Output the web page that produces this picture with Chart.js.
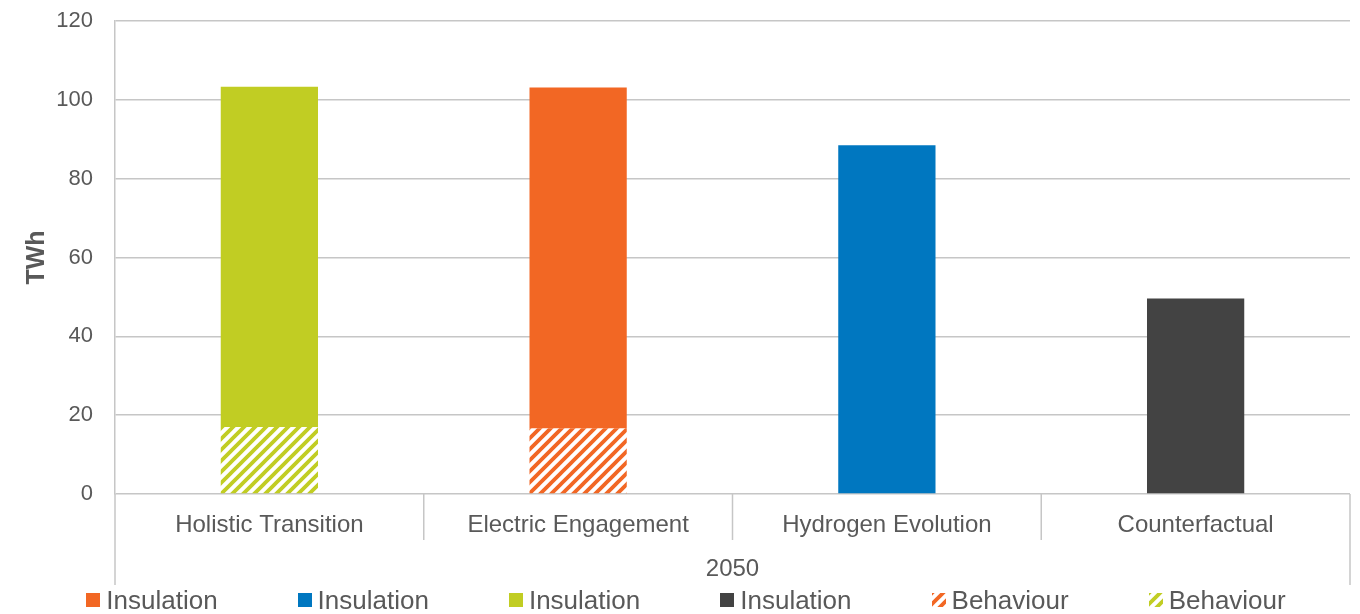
<!DOCTYPE html>
<html>
<head>
<meta charset="utf-8">
<script src="https://cdn.jsdelivr.net/npm/chart.js@4/dist/chart.umd.min.js"></script>
<style>
  body { margin: 0; background: #fff; }
  #wrap { position: relative; width: 1360px; height: 614px; overflow: hidden; }
  #legend {
    position: absolute; left: 0; top: 585px; width: 1360px; height: 30px;
    display: flex; justify-content: center; align-items: center; gap: 80px;
    font-family: "Liberation Sans", Arial, sans-serif; font-size: 26px; color: #595959;
    transform: translateX(6px);
  }
  #legend .item { display: flex; align-items: center; white-space: nowrap; }
  #legend canvas { margin-right: 6px; }
</style>
</head>
<body>
<div id="wrap">
  <canvas id="bar-chart" width="1360" height="614"></canvas>
  <div id="legend"></div>
</div>
<script>
const categories = ['Holistic Transition', 'Electric Engagement', 'Hydrogen Evolution', 'Counterfactual'];
const groupLabel = '2050';
const yTitle = 'TWh';

const insulationElectric = [null, 86.4, null, null];
const insulationHydrogen = [null, null, 88.5, null];
const insulationHolistic = [86.3, null, null, null];
const insulationCounterfactual = [null, null, null, 49.6];
const behaviourElectric = [null, 16.7, null, null];
const behaviourHolistic = [17.0, null, null, null];

const seriesNames = ['Insulation', 'Insulation', 'Insulation', 'Insulation', 'Behaviour', 'Behaviour'];
const seriesValues = [insulationElectric, insulationHydrogen, insulationHolistic, insulationCounterfactual, behaviourElectric, behaviourHolistic];
const seriesColors = ['#F26724', '#0077C0', '#C1CD23', '#434343', '#F26724', '#C1CD23'];
const seriesHatched = [false, false, false, false, true, true];

const GRID = '#c6c6c6';
const TEXT = '#595959';
const FONT = '"Liberation Sans", Arial, sans-serif';

const ctx = document.querySelector('#bar-chart').getContext('2d');

function makeHatch(color, targetCtx) {
    const size = 11;
    const c = document.createElement('canvas');
    c.width = size; c.height = size;
    const g = c.getContext('2d');
    g.strokeStyle = color;
    g.lineWidth = 3.8;
    g.beginPath();
    g.moveTo(-size / 2, size / 2); g.lineTo(size / 2, -size / 2);
    g.moveTo(0, size); g.lineTo(size, 0);
    g.moveTo(size / 2, size * 1.5); g.lineTo(size * 1.5, size / 2);
    g.stroke();
    return targetCtx.createPattern(c, 'repeat');
}

// behaviour goes under insulation in each stack
const datasets = seriesNames.map((name, i) => ({
    label: name,
    data: seriesValues[i],
    backgroundColor: seriesHatched[i] ? makeHatch(seriesColors[i], ctx) : seriesColors[i],
    borderWidth: 0,
    order: seriesHatched[i] ? 0 : 1
})).sort((a, b) => a.order - b.order);

// category separators + outer frame under the x axis
const separators = {
    id: 'separators',
    afterDraw(chart) {
        const x = chart.scales.x;
        const area = chart.chartArea;
        const c = chart.ctx;
        const n = categories.length;
        const step = x.getPixelForValue(1) - x.getPixelForValue(0);
        c.save();
        c.strokeStyle = GRID;
        c.lineWidth = 1.5;
        for (let i = 0; i <= n; i++) {
            const px = x.getPixelForValue(i) - step / 2;
            const outer = (i === 0 || i === n);
            const end = outer ? area.bottom + 91 : area.bottom + 46;
            c.beginPath();
            c.moveTo(px, area.bottom);
            c.lineTo(px, end);
            c.stroke();
        }
        c.restore();
    }
};

new Chart(ctx, {
    type: 'bar',
    data: { labels: categories, datasets: datasets },
    plugins: [separators],
    options: {
        responsive: false,
        animation: false,
        layout: { padding: { top: 21, right: 10, bottom: 0, left: 0 } },
        plugins: {
            legend: { display: false },
            tooltip: { enabled: false }
        },
        datasets: {
            bar: { categoryPercentage: 1, barPercentage: 0.315 }
        },
        scales: {
            x: {
                stacked: true,
                grid: { display: false },
                border: { display: false },
                ticks: {
                    color: TEXT,
                    font: { family: FONT, size: 24 },
                    padding: 9,
                    maxRotation: 0,
                    autoSkip: false
                },
                title: {
                    display: true,
                    text: groupLabel,
                    color: TEXT,
                    font: { family: FONT, size: 24 },
                    padding: { top: 0, bottom: 30 }
                },
                afterFit(scale) { scale.height = 120; }
            },
            y: {
                stacked: true,
                min: 0,
                max: 120,
                ticks: {
                    stepSize: 20,
                    color: TEXT,
                    font: { family: FONT, size: 22 },
                    padding: 22
                },
                grid: {
                    color: GRID,
                    lineWidth: 1.5,
                    drawTicks: false
                },
                border: { color: GRID, width: 1.5 },
                title: {
                    display: true,
                    text: yTitle,
                    color: TEXT,
                    font: { family: FONT, size: 25, weight: 'bold' },
                    padding: { top: 22, bottom: 0 }
                },
                afterFit(scale) {
                    scale.width = 115;
                    scale.paddingTop = 0;
                    scale.paddingBottom = 0;
                }
            }
        }
    }
});

// legend in the original series order
const legend = document.getElementById('legend');
seriesNames.forEach((name, i) => {
    const item = document.createElement('span');
    item.className = 'item';
    const box = document.createElement('canvas');
    box.width = 14; box.height = 14;
    const bctx = box.getContext('2d');
    bctx.fillStyle = seriesHatched[i] ? makeHatch(seriesColors[i], bctx) : seriesColors[i];
    bctx.fillRect(0, 0, 14, 14);
    const text = document.createElement('span');
    text.textContent = name;
    item.appendChild(box);
    item.appendChild(text);
    legend.appendChild(item);
});
</script>
</body>
</html>
